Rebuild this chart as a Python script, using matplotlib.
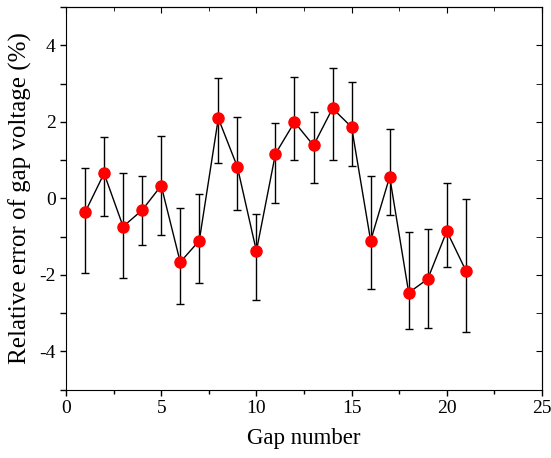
import matplotlib
matplotlib.use("Agg")
import matplotlib.pyplot as plt
from matplotlib.ticker import MultipleLocator

# values
gap = [1, 2, 3, 4, 5, 6, 7, 8, 9, 10, 11, 12, 13, 14, 15, 16, 17, 18, 19, 20, 21]
error = [-0.37, 0.65, -0.74, -0.31, 0.33, -1.67, -1.11, 2.09, 0.82, -1.38, 1.16,
         1.99, 1.38, 2.35, 1.86, -1.11, 0.56, -2.47, -2.11, -0.86, -1.89]
upper = [0.78, 1.61, 0.67, 0.58, 1.63, -0.25, 0.10, 3.15, 2.13, -0.42, 1.97,
         3.17, 2.26, 3.41, 3.03, 0.58, 1.80, -0.89, -0.81, 0.39, -0.03]
lower = [-1.96, -0.47, -2.09, -1.21, -0.95, -2.76, -2.22, 0.93, -0.30, -2.66, -0.12,
         1.00, 0.41, 0.99, 0.85, -2.38, -0.44, -3.41, -3.40, -1.79, -3.50]

plt.rcParams['font.family'] = ['Liberation Serif', 'DejaVu Serif']
plt.rcParams['axes.unicode_minus'] = False

fig = plt.figure(figsize=(5.51, 4.58), dpi=100)
ax = fig.add_axes([66 / 551, 1 - 389.5 / 458, 476 / 551, 382.5 / 458])

yerr = [[e - lo for e, lo in zip(error, lower)], [u - e for e, u in zip(error, upper)]]
ax.errorbar(gap, error, yerr=yerr, fmt='none', ecolor='black', elinewidth=1,
            capsize=3, capthick=1, zorder=2)
ax.plot(gap, error, color='black', lw=1, marker='o', markersize=8,
        markerfacecolor='red', markeredgecolor='red', zorder=3)

ax.set_xlim(0, 25)
ax.set_ylim(-5, 5)
ax.xaxis.set_major_locator(MultipleLocator(5))
ax.xaxis.set_minor_locator(MultipleLocator(2.5))
ax.yaxis.set_major_locator(MultipleLocator(2))
ax.yaxis.set_minor_locator(MultipleLocator(1))

ax.tick_params(which='major', direction='out', length=4, width=1, labelsize=14)
ax.tick_params(which='minor', direction='out', length=3, width=1)
ax.tick_params(axis='y', which='minor', length=4)

# inward ticks on top and right
top = ax.secondary_xaxis('top')
top.xaxis.set_major_locator(MultipleLocator(5))
top.xaxis.set_minor_locator(MultipleLocator(2.5))
top.tick_params(which='major', direction='in', length=4, labeltop=False)
top.tick_params(which='minor', direction='in', length=3)
right = ax.secondary_yaxis('right')
right.yaxis.set_major_locator(MultipleLocator(2))
right.yaxis.set_minor_locator(MultipleLocator(1))
right.tick_params(which='both', direction='in', length=4, labelright=False)

ax.set_xlabel('Gap number', fontsize=16.5, labelpad=8)
ax.set_ylabel('Relative error of gap voltage (%)', fontsize=18, labelpad=5)

fig.savefig('out.png', dpi=100)
